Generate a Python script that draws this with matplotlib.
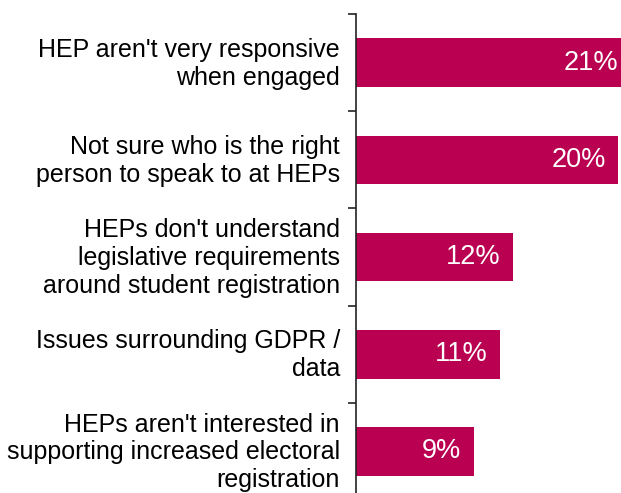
import numpy as np
import matplotlib.pyplot as plt

plt.rcParams['font.family'] = ['Liberation Sans', 'DejaVu Sans']

# barriers to working with HEPs, share of respondents (%)
categories = [
    "HEP aren't very responsive\nwhen engaged",
    "Not sure who is the right\nperson to speak to at HEPs",
    "HEPs don't understand\nlegislative requirements\naround student registration",
    "Issues surrounding GDPR /\ndata",
    "HEPs aren't interested in\nsupporting increased electoral\nregistration",
]
values = [21, 20, 12, 11, 9]

bar_color = '#BA0050'

fig = plt.figure(figsize=(6.21, 4.93), dpi=100)
ax = fig.add_axes([356 / 621, -7 / 493, 265 / 621, 486 / 493])

y = np.arange(len(categories))
ax.barh(y, values, height=0.5, color=bar_color)

for yi, v in zip(y, values):
    ax.text(v - 0.95, yi, f'{v}%', ha='right', va='center',
            color='white', fontsize=19.5)

# category labels, right-aligned just left of the axis line
for yi, label in zip(y, categories):
    ax.annotate(label, xy=(0, yi), xycoords=('axes fraction', 'data'),
                xytext=(-16, -1), textcoords='offset pixels',
                ha='right', va='center', fontsize=18, linespacing=1.2,
                annotation_clip=False)

ax.set_xlim(0, 265 / 13.1)
ax.set_ylim(len(categories) - 0.5, -0.5)

# ticks sit between the bars
ax.set_yticks(np.arange(len(categories) + 1) - 0.5)
ax.set_yticklabels([])
ax.tick_params(axis='y', length=6, width=1.2, color='#222222')

ax.set_xticks([])
for side in ['top', 'right', 'bottom']:
    ax.spines[side].set_visible(False)
ax.spines['left'].set_linewidth(1.2)
ax.spines['left'].set_color('#222222')

fig.savefig('out.png', dpi=100)
